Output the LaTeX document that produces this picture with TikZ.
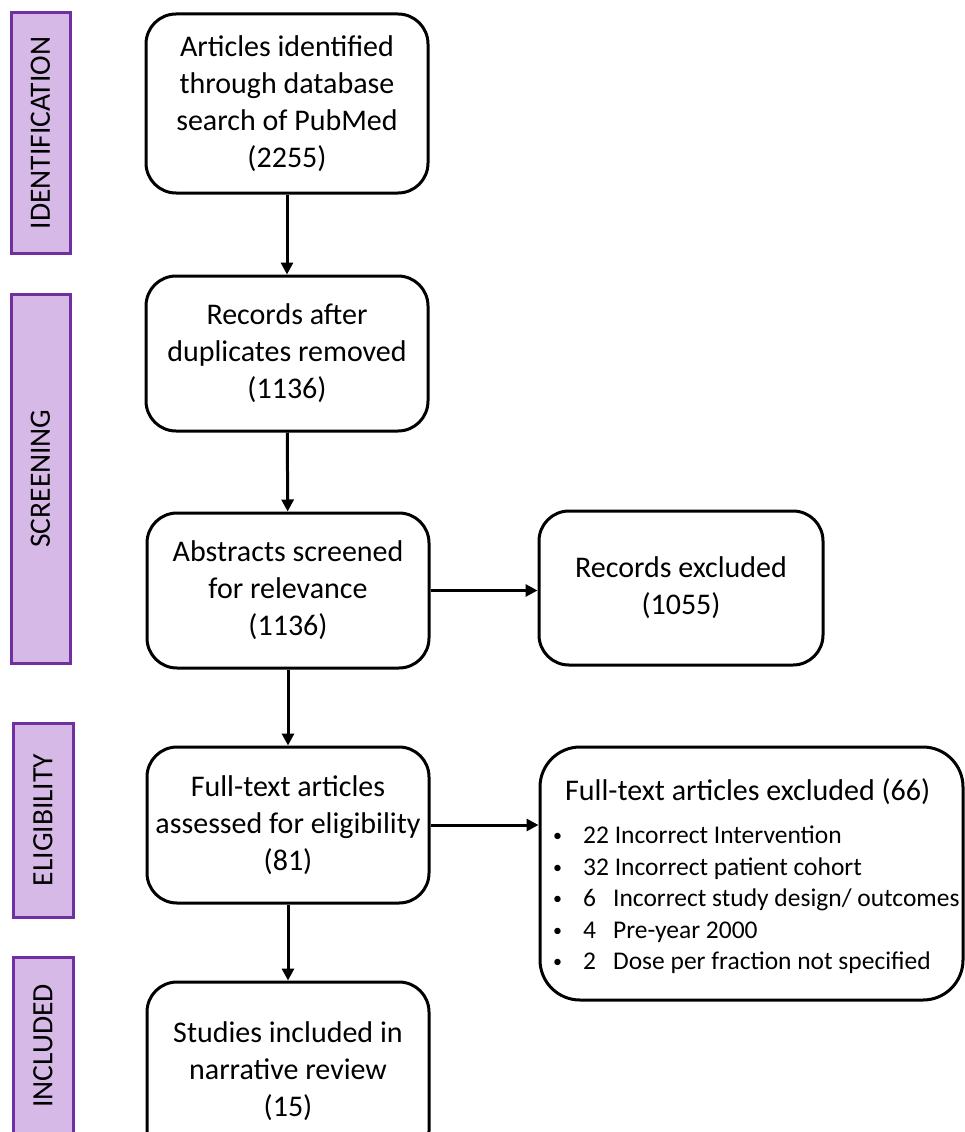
\documentclass[tikz,border=0pt]{standalone}
\usepackage{fontspec}
\setmainfont{Carlito}
\usetikzlibrary{positioning}
\usetikzlibrary{arrows.meta}
\definecolor{lilac}{RGB}{215,185,232}
\definecolor{plum}{RGB}{112,48,160}
\newcommand\exbullet{\raisebox{2pt}{\fontsize{18}{18}\selectfont\textbullet}}

\begin{document}
\begin{tikzpicture}[x=1pt, y=-1pt, align=center,
	flownode/.style={rectangle,rounded corners=30pt,draw=black,line width=3pt,fill=white,minimum width=282pt,font=\fontsize{30}{37}\selectfont},
	phasenode/.style={rectangle,draw=plum,fill=lilac,line width=3pt,rotate=90,font=\fontsize{29.5}{35}\selectfont},
	flowarrow/.style={-{Triangle[length=12pt,width=12pt]},line width=3pt}]
	\useasboundingbox (0,0) rectangle (965,1132);
	\clip (0,0) rectangle (965,1132);
	% \draw[help lines] (0,0) grid (965,1132);
	\node[phasenode, minimum width=240pt, minimum height=59pt](idlab) at (40.5,133){IDENTIFICATION};
	\node[phasenode, minimum width=369pt, minimum height=59pt](scrlab) at (40.5,478.5){SCREENING};
	\node[phasenode, minimum width=194pt, minimum height=60pt](eliglab) at (43,820){ELIGIBILITY};
	\node[phasenode, minimum width=178pt, minimum height=60pt](incllab) at (43,1046){INCLUDED};
	\node[flownode, minimum height=179pt](ident) at (287,103.5){Articles identified\\through database\\search of PubMed\\(2255)};
	\node[flownode, minimum height=155pt](dedup) at (287,353.5){Records after\\duplicates removed\\(1136)};
	\node[flownode, minimum height=155pt](abstr) at (288,590.5){Abstracts screened\\for relevance\\(1136)};
	\node[flownode, minimum height=154pt, minimum width=284pt](recex) at (681,588){Records excluded\\(1055)};
	\node[flownode, minimum height=156pt](fullt) at (288,825){Full-text articles\\assessed for eligibility\\(81)};
	\node[flownode, minimum height=253pt, minimum width=423pt, rounded corners=40pt](fullex) at (751.5,873.5){};
	\node[anchor=west, inner sep=0pt, font=\fontsize{30}{37}\selectfont](fullextitle) at (565,792){Full-text articles excluded (66)};
	\node[anchor=west, align=left, inner sep=0pt, font=\fontsize{25.5}{31.5}\selectfont](fullexlist) at (553,900){\exbullet\hspace{21pt}22 Incorrect Intervention\\\exbullet\hspace{21pt}32 Incorrect patient cohort\\\exbullet\hspace{21pt}6\hspace{17pt}Incorrect study design/ outcomes\\\exbullet\hspace{21pt}4\hspace{17pt}Pre-year 2000\\\exbullet\hspace{21pt}2\hspace{17pt}Dose per fraction not specified};
	\node[flownode, minimum height=179pt](incl) at (288,1071.5){Studies included in\\narrative review\\(15)};
	\draw[flowarrow] (ident) -- (dedup);
	\draw[flowarrow] (dedup) -- (abstr);
	\draw[flowarrow] (abstr) -- (fullt);
	\draw[flowarrow] (fullt) -- (incl);
	\draw[flowarrow] (abstr.east) -- (abstr.east -| recex.west);
	\draw[flowarrow] (fullt.east) -- (fullt.east -| fullex.west);
\end{tikzpicture}
\end{document}
